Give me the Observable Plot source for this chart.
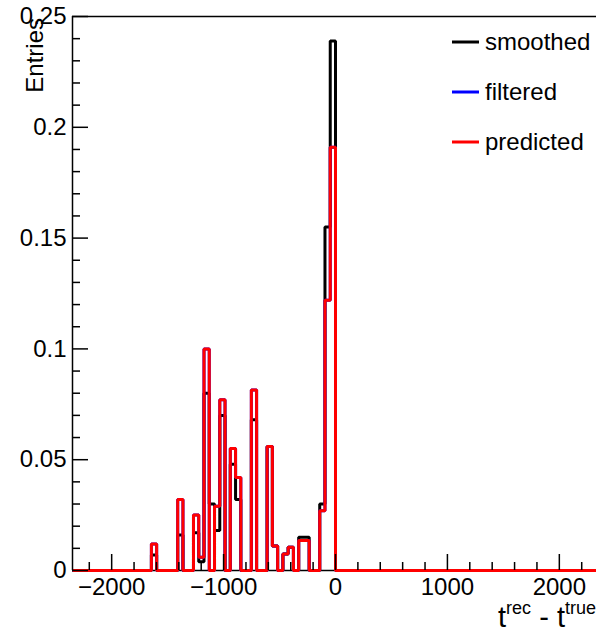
<!DOCTYPE html>
<html><head><meta charset="utf-8">
<script src="https://cdn.jsdelivr.net/npm/d3@7"></script>
<script src="https://cdn.jsdelivr.net/npm/@observablehq/plot@0.6"></script>
<style>
html,body{margin:0;padding:0;background:#fff;overflow:hidden;}
svg{font-family:"Liberation Sans",Arial,Helvetica,sans-serif;}
</style></head><body><div id="chart"></div>
<script>
// Histogram binning (ROOT TH1: 100 bins on [-2350, 2350])
const binWidth = 47;
const xMin = -2350, xMax = 2350;
// lower edges of the non-empty bins
const binLow = [-1645, -1410, -1269, -1222, -1175, -1128, -1081, -1034, -940, -893,
                -752, -611, -564, -470, -423, -329, -282, -141, -94, -47];
// bin contents
const smoothed  = [0.007, 0.016, 0.017, 0.004, 0.080, 0.030, 0.018, 0.070, 0.048, 0.032,
                   0.068, 0.056, 0.011, 0.0075, 0.0105, 0.015, 0.015, 0.030, 0.155, 0.239];
const filtered  = [0.012, 0.032, 0.025, 0.006, 0.100, 0.000, 0.029, 0.077, 0.055, 0.042,
                   0.0815, 0.056, 0.011, 0.0075, 0.0105, 0.0135, 0.0135, 0.027, 0.122, 0.191];
const predicted = [0.012, 0.032, 0.025, 0.006, 0.100, 0.000, 0.029, 0.077, 0.055, 0.042,
                   0.0815, 0.056, 0.011, 0.0075, 0.0105, 0.0135, 0.0135, 0.027, 0.122, 0.191];
const seriesNames  = ["smoothed", "filtered", "predicted"];
const seriesColors = ["#000000", "#0000ff", "#ff0000"];
const yTickValues = [0, 0.05, 0.1, 0.15, 0.2, 0.25];
const xTickValues = [-2000, -1000, 0, 1000, 2000];
const yTitle = "Entries";

function histogram(values) {
  const n = Math.round((xMax - xMin) / binWidth);
  const pts = [];
  for (let k = 0; k < n; k++) {
    const lo = xMin + k * binWidth;
    const i = binLow.indexOf(lo);
    pts.push({x: lo, y: i >= 0 ? values[i] : 0});
  }
  pts.push({x: xMax, y: 0});
  return pts;
}

const W = 596, H = 633;
const mL = 72, mT = 16, mB = 63, mR = -2;
const plotW = W - mL - mR, plotH = H - mT - mB;
const yMinor = d3.range(0, 0.2501, 0.01).filter(v => Math.abs(v / 0.05 - Math.round(v / 0.05)) > 1e-6);
const xMinor = d3.range(-2200, 2201, 200).filter(v => v % 1000 !== 0);
const series = [smoothed, filtered, predicted];

const chart = Plot.plot({
  width: W, height: H,
  marginLeft: mL, marginRight: mR, marginTop: mT, marginBottom: mB,
  style: {background: "white", overflow: "visible", fontFamily: '"Liberation Sans",Arial,sans-serif'},
  x: {domain: [xMin, xMax]},
  y: {domain: [0, 0.25]},
  marks: [
    Plot.ruleY([0], {stroke: "#000", strokeWidth: 1.5}),
    ...series.map((s, i) => Plot.line(histogram(s), {
      x: "x", y: "y", curve: "step-after",
      stroke: seriesColors[i], strokeWidth: 3, strokeLinejoin: "miter", strokeLinecap: "butt"
    })),
    Plot.ruleY([0.25], {stroke: "#000", strokeWidth: 1.5}),
    Plot.ruleX([xMin], {stroke: "#000", strokeWidth: 1.5}),
    Plot.tickY(yTickValues, {y: d => d, insetRight: plotW - 16, stroke: "#000", strokeWidth: 1.5}),
    Plot.tickY(yMinor, {y: d => d, insetRight: plotW - 8, stroke: "#000", strokeWidth: 1.5}),
    Plot.tickX(xTickValues, {x: d => d, insetTop: plotH - 16, stroke: "#000", strokeWidth: 1.5}),
    Plot.tickX(xMinor, {x: d => d, insetTop: plotH - 8, stroke: "#000", strokeWidth: 1.5}),
    Plot.axisY(yTickValues, {tickSize: 0, tickPadding: 6, fontSize: 24, label: null,
      tickFormat: d => String(+d.toFixed(2))}),
    Plot.axisX(xTickValues, {tickSize: 0, tickPadding: 7, fontSize: 24, label: null,
      tickFormat: d3.format("d")})
  ]
});
document.getElementById("chart").appendChild(chart);

const svg = d3.select(chart);
svg.append("text")
  .attr("transform", "translate(43,18) rotate(-90)")
  .attr("text-anchor", "end")
  .attr("font-size", 24).attr("fill", "#000")
  .text(yTitle);

const xt = svg.append("text")
  .attr("x", 596).attr("y", 627).attr("text-anchor", "end")
  .attr("font-size", 29).attr("fill", "#000");
xt.append("tspan").text("t");
xt.append("tspan").attr("font-size", 18).attr("dy", -13).text("rec");
xt.append("tspan").attr("dy", 13).text(" - t");
xt.append("tspan").attr("font-size", 18).attr("dy", -13).text("true");

const legend = svg.append("g").attr("text-anchor", "start");
seriesNames.forEach((name, i) => {
  const cy = 42 + i * 50;
  legend.append("line").attr("x1", 452).attr("x2", 479).attr("y1", cy).attr("y2", cy)
    .attr("stroke", seriesColors[i]).attr("stroke-width", 3);
  legend.append("text").attr("x", 485).attr("y", cy).attr("dy", "0.35em")
    .attr("text-anchor", "start")
    .attr("font-size", 24).attr("fill", "#000").text(name);
});
</script></body></html>
